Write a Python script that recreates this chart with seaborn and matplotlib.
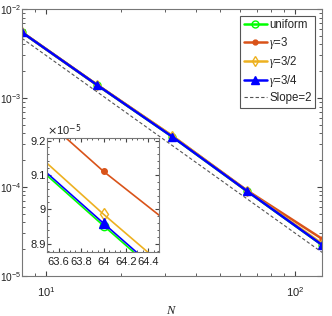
import numpy as np
import pandas as pd
import seaborn as sns
import matplotlib
matplotlib.use("Agg")
import matplotlib.pyplot as plt
from matplotlib.ticker import FixedLocator, NullFormatter, FixedFormatter

# error data
N = [8, 16, 32, 64, 128]
err_uniform = [5.47e-3, 1.40e-3, 3.68e-4, 8.953e-5, 2.22e-5]
err_g3 = [5.50e-3, 1.41e-3, 3.75e-4, 9.110e-5, 2.60e-5]
err_g32 = [5.48e-3, 1.40e-3, 3.77e-4, 8.986e-5, 2.30e-5]
err_g34 = [5.47e-3, 1.40e-3, 3.68e-4, 8.960e-5, 2.22e-5]
slope_const = 0.3

series = [
    ("uniform", err_uniform, "#00FF00", "o", "none", 5),
    (r"$\gamma$=3", err_g3, "#D95319", ".", "#D95319", 7),
    (r"$\gamma$=3/2", err_g32, "#EDB120", "d", "none", 5),
    (r"$\gamma$=3/4", err_g34, "#0000FF", "^", "#0000FF", 6),
]

sns.set_style("ticks")
plt.rcParams["font.family"] = ["Liberation Sans", "DejaVu Sans"]
plt.rcParams["font.size"] = 8
plt.rcParams["mathtext.fontset"] = "custom"
plt.rcParams["mathtext.it"] = "Liberation Serif:italic"

fig = plt.figure(figsize=(3.32, 3.16), dpi=100)
ax = fig.add_axes([0.066, 0.1275, 0.904, 0.844])

for name, err, col, mk, mfc, ms in series:
    df = pd.DataFrame({"N": N, "err": err})
    sns.lineplot(data=df, x="N", y="err", ax=ax, color=col, marker=mk,
                 markerfacecolor=mfc, markeredgecolor=col, markersize=ms,
                 markeredgewidth=1.0, linewidth=1.8, label=name)

slope_df = pd.DataFrame({"N": N, "err": [slope_const * n ** -2 for n in N]})
sns.lineplot(data=slope_df, x="N", y="err", ax=ax, color="#555555",
             linestyle=(0, (3, 2)), linewidth=0.8, label="Slope=2")

ax.set_xscale("log")
ax.set_yscale("log")
ax.set_xlim(8, 128)
ax.set_ylim(1e-5, 1e-2)
ax.set_xlabel(r"$\it{N}$", fontsize=9, labelpad=4)
ax.set_ylabel("")
ax.tick_params(which="both", direction="in", top=True, right=True,
               colors="#444444", labelcolor="#222222")
ax.tick_params(which="major", length=3.5)
ax.tick_params(which="minor", length=2)
ax.tick_params(axis="y", pad=0.5, labelsize=7.3)
ax.tick_params(axis="x", pad=7, labelsize=8)
for s in ax.spines.values():
    s.set_color("#777777")
    s.set_linewidth(0.8)

leg = ax.legend(loc="upper right", fontsize=8.3, handlelength=2.0,
                handletextpad=0.2, labelspacing=0.28, borderpad=0.3,
                fancybox=False, framealpha=1, borderaxespad=0.6)
leg.get_frame().set_edgecolor("#555555")
leg.get_frame().set_linewidth(0.8)

# inset zoom around N = 64
axi = fig.add_axes([0.1425, 0.2035, 0.3375, 0.3588])
for name, err, col, mk, mfc, ms in series:
    df = pd.DataFrame({"N": N, "err": [e * 1e5 for e in err]})
    sns.lineplot(data=df, x="N", y="err", ax=axi, color=col, marker=mk,
                 markerfacecolor=mfc, markeredgecolor=col, markersize=ms + 1,
                 markeredgewidth=1.0, linewidth=1.2, legend=False)
axi.set_xscale("log")
axi.set_yscale("log")
axi.set_xlim(63.5, 64.5)
axi.set_ylim(8.879, 9.207)
xt = [63.6, 63.8, 64, 64.2, 64.4]
yt = [8.9, 9, 9.1, 9.2]
axi.xaxis.set_major_locator(FixedLocator(xt))
axi.xaxis.set_major_formatter(FixedFormatter(["63.6", "63.8", "64", "64.2", "64.4"]))
axi.xaxis.set_minor_locator(FixedLocator(list(np.arange(63.55, 64.5, 0.05))))
axi.xaxis.set_minor_formatter(NullFormatter())
axi.yaxis.set_major_locator(FixedLocator(yt))
axi.yaxis.set_major_formatter(FixedFormatter(["8.9", "9", "9.1", "9.2"]))
axi.yaxis.set_minor_locator(FixedLocator(list(np.arange(8.88, 9.21, 0.02))))
axi.yaxis.set_minor_formatter(NullFormatter())
axi.set_xlabel("")
axi.set_ylabel("")
axi.tick_params(which="both", direction="in", top=True, right=True,
                colors="#444444", labelcolor="#222222", labelsize=8)
axi.tick_params(which="major", length=3)
axi.tick_params(which="minor", length=1.5)
axi.tick_params(axis="y", pad=1)
for s in axi.spines.values():
    s.set_color("#777777")
    s.set_linewidth(0.8)
axi.text(0.0, 1.005, r"$\times$10$^{-5}$", transform=axi.transAxes,
         fontsize=8, ha="left", va="bottom", color="#222222")

fig.savefig("out.png", dpi=100)
